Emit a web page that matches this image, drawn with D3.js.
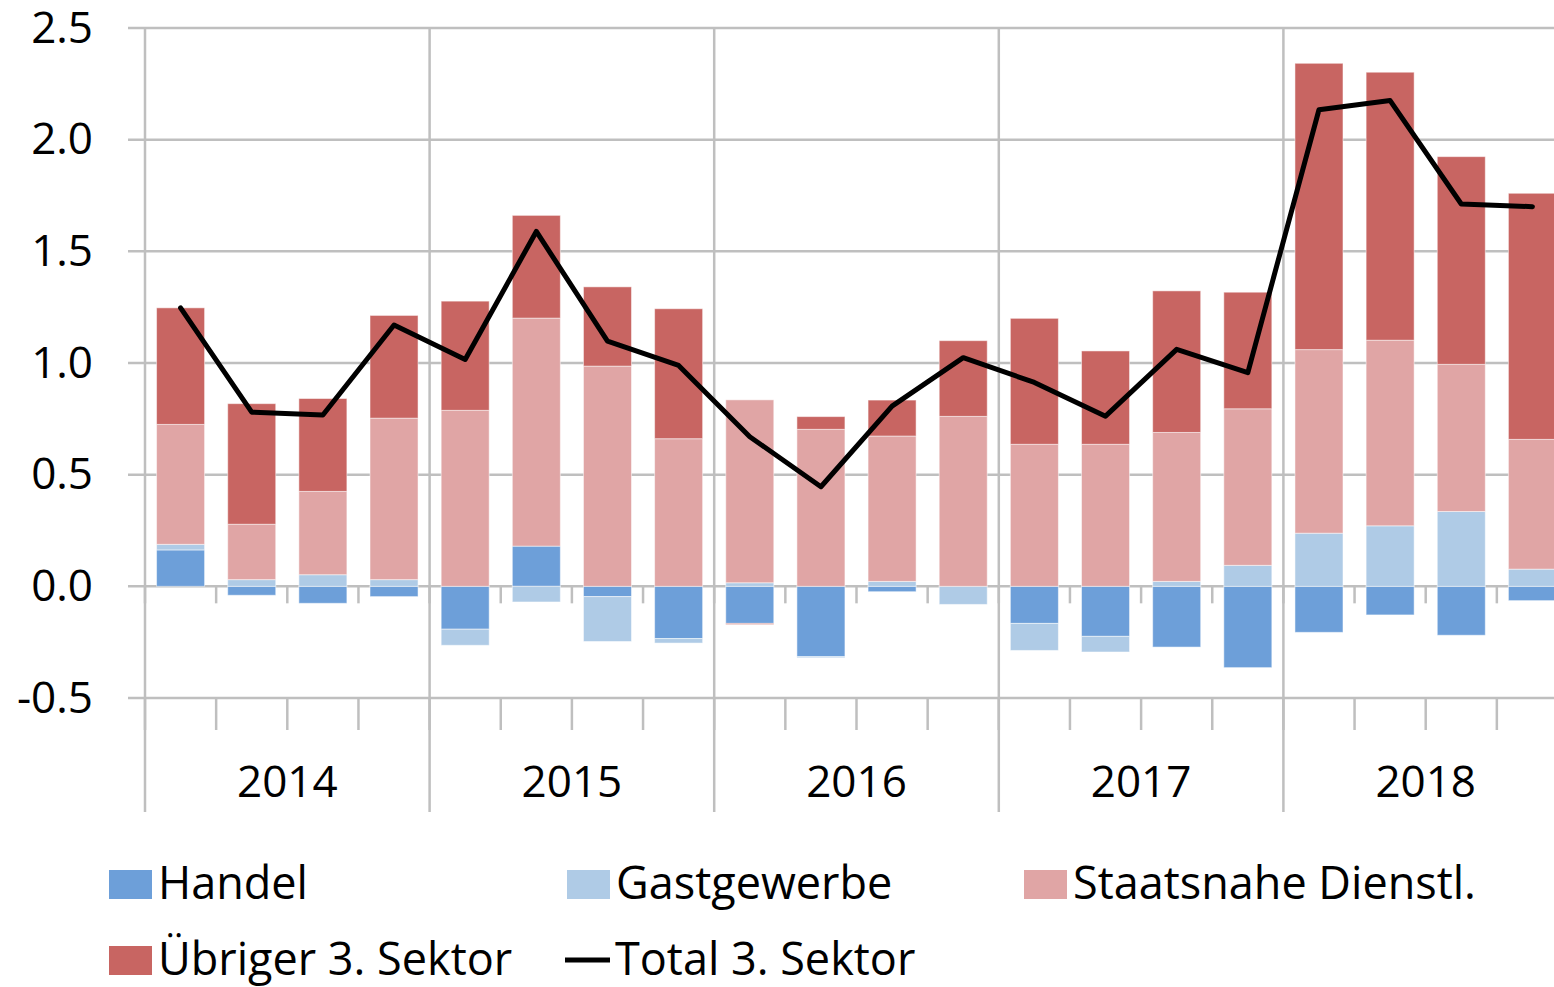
<!DOCTYPE html>
<html>
<head>
<meta charset="utf-8">
<script src="https://cdn.jsdelivr.net/npm/d3@7"></script>
<style>
  html, body { margin: 0; padding: 0; background: #fff; }
  svg { display: block; font-family: "Open Sans", sans-serif; }
</style>
</head>
<body>
<svg id="chart" width="1554" height="987"></svg>
<script>
// Quarterly contributions to growth in the tertiary sector (percentage points)
const quarters = [
  "2014Q1", "2014Q2", "2014Q3", "2014Q4",
  "2015Q1", "2015Q2", "2015Q3", "2015Q4",
  "2016Q1", "2016Q2", "2016Q3", "2016Q4",
  "2017Q1", "2017Q2", "2017Q3", "2017Q4",
  "2018Q1", "2018Q2", "2018Q3", "2018Q4"
];
const years = ["2014", "2015", "2016", "2017", "2018"];

const handel = [0.163, -0.040, -0.076, -0.046, -0.192, 0.180, -0.046, -0.234, -0.166, -0.315,
                -0.024, 0.000, -0.166, -0.224, -0.272, -0.364, -0.206, -0.128, -0.219, -0.064];
const gastgewerbe = [0.025, 0.030, 0.052, 0.030, -0.072, -0.070, -0.201, -0.020, 0.016, -0.005,
                     0.022, -0.081, -0.121, -0.070, 0.022, 0.094, 0.238, 0.271, 0.335, 0.077];
const staatsnahe = [0.537, 0.248, 0.373, 0.723, 0.788, 1.021, 0.986, 0.661, 0.819, 0.703,
                    0.651, 0.761, 0.636, 0.636, 0.667, 0.701, 0.822, 0.831, 0.659, 0.581];
const uebriger = [0.522, 0.540, 0.416, 0.460, 0.489, 0.460, 0.355, 0.582, -0.005, 0.057,
                  0.161, 0.339, 0.564, 0.418, 0.634, 0.522, 1.282, 1.200, 0.930, 1.102];
const total = [1.247, 0.780, 0.767, 1.170, 1.016, 1.589, 1.098, 0.989, 0.670, 0.446,
               0.807, 1.024, 0.913, 0.762, 1.061, 0.957, 2.134, 2.175, 1.712, 1.700];

const yTicks = [-0.5, 0, 0.5, 1.0, 1.5, 2.0, 2.5];

const seriesKeys = ["handel", "gastgewerbe", "staatsnahe", "uebriger"];
const seriesNames = ["Handel", "Gastgewerbe", "Staatsnahe Dienstl.", "Übriger 3. Sektor"];
const seriesColors = ["#6d9fd9", "#afcbe6", "#e0a5a5", "#c86562"];
const totalName = "Total 3. Sektor";

const rows = quarters.map((q, i) => ({
  q,
  handel: handel[i],
  gastgewerbe: gastgewerbe[i],
  staatsnahe: staatsnahe[i],
  uebriger: uebriger[i],
  total: total[i]
}));

const svg = d3.select("#chart");
const plotLeft = 145, plotRight = 1568, plotTop = 28, plotBottom = 698;
const axisFoot = 812;
const gridColor = "#bfbfbf";

const x = d3.scaleBand().domain(quarters).range([plotLeft, plotRight])
  .paddingInner(0.325).paddingOuter(0.1625);
const xYear = d3.scaleBand().domain(years).range([plotLeft, plotRight]);
const y = d3.scaleLinear().domain([-0.5, 2.5]).range([plotBottom, plotTop]);

// horizontal gridlines (extend left as tick marks)
svg.append("g").selectAll("line").data(yTicks).join("line")
  .attr("x1", plotLeft - 17).attr("x2", plotRight)
  .attr("y1", d => y(d)).attr("y2", d => y(d))
  .attr("stroke", gridColor).attr("stroke-width", 2.5);

// year separators and the value axis line
svg.append("g").selectAll("line").data([...years.map(d => xYear(d)), plotRight]).join("line")
  .attr("x1", d => d).attr("x2", d => d)
  .attr("y1", plotTop).attr("y2", axisFoot)
  .attr("stroke", gridColor).attr("stroke-width", 2.5);

// quarter tick marks on the zero line and on the category axis
const step = x.step();
const boundaries = quarters.map(q => x(q) - (step - x.bandwidth()) / 2);
svg.append("g").selectAll("line").data(boundaries).join("line")
  .attr("x1", d => d).attr("x2", d => d)
  .attr("y1", y(0)).attr("y2", y(0) + 17)
  .attr("stroke", gridColor).attr("stroke-width", 2.5);
svg.append("g").selectAll("line").data(boundaries).join("line")
  .attr("x1", d => d).attr("x2", d => d)
  .attr("y1", y(-0.5)).attr("y2", y(-0.5) + 32)
  .attr("stroke", gridColor).attr("stroke-width", 2.5);

// y axis labels
const yAxis = d3.axisLeft(y).tickValues(yTicks)
  .tickFormat(d => d.toFixed(1)).tickSize(17).tickPadding(35);
const gy = svg.append("g").attr("transform", `translate(${plotLeft},0)`).call(yAxis);
gy.select(".domain").remove();
gy.selectAll(".tick line").remove();
gy.selectAll(".tick text")
  .attr("font-family", "Open Sans, sans-serif")
  .attr("font-size", 44).attr("fill", "#000");

// year labels
const xAxis = d3.axisBottom(xYear).tickSize(0).tickPadding(0);
const gx = svg.append("g").attr("transform", `translate(0,${782})`).call(xAxis);
gx.select(".domain").remove();
gx.selectAll(".tick text")
  .attr("font-family", "Open Sans, sans-serif")
  .attr("font-size", 44).attr("fill", "#000")
  .attr("dy", "0.35em").attr("y", 0);

// stacked bars (positive and negative parts stacked separately)
const stack = d3.stack().keys(seriesKeys).offset(d3.stackOffsetDiverging);
const stacked = stack(rows);

svg.append("g").selectAll("g").data(stacked).join("g")
  .attr("fill", (d, i) => seriesColors[i])
  .selectAll("rect").data(d => d).join("rect")
  .attr("x", d => x(d.data.q))
  .attr("width", x.bandwidth())
  .attr("y", d => y(Math.max(d[0], d[1])))
  .attr("height", d => Math.abs(y(d[0]) - y(d[1])))
  .attr("stroke", "#ffffff").attr("stroke-width", 1).attr("stroke-opacity", 0.5);

// total line
const line = d3.line()
  .x(d => x(d.q) + x.bandwidth() / 2)
  .y(d => y(d.total));
svg.append("path").datum(rows)
  .attr("d", line)
  .attr("fill", "none")
  .attr("stroke", "#000")
  .attr("stroke-width", 5)
  .attr("stroke-linejoin", "round")
  .attr("stroke-linecap", "round");

// legend
const legendItems = [
  { name: seriesNames[0], color: seriesColors[0], type: "box", x: 109, y: 870 },
  { name: seriesNames[1], color: seriesColors[1], type: "box", x: 567, y: 870 },
  { name: seriesNames[2], color: seriesColors[2], type: "box", x: 1024, y: 870 },
  { name: seriesNames[3], color: seriesColors[3], type: "box", x: 109, y: 946 },
  { name: totalName, color: "#000", type: "line", x: 565, y: 946 }
];
const lg = svg.append("g").selectAll("g").data(legendItems).join("g")
  .attr("transform", d => `translate(${d.x},${d.y})`);
lg.filter(d => d.type === "box").append("rect")
  .attr("width", 43).attr("height", 29).attr("fill", d => d.color);
lg.filter(d => d.type === "line").append("line")
  .attr("x1", 0).attr("x2", 45).attr("y1", 14).attr("y2", 14)
  .attr("stroke", d => d.color).attr("stroke-width", 5);
lg.append("text")
  .attr("x", d => d.type === "box" ? 49 : 50)
  .attr("y", 29)
  .attr("font-size", 45).attr("fill", "#000")
  .text(d => d.name);
</script>
</body>
</html>
